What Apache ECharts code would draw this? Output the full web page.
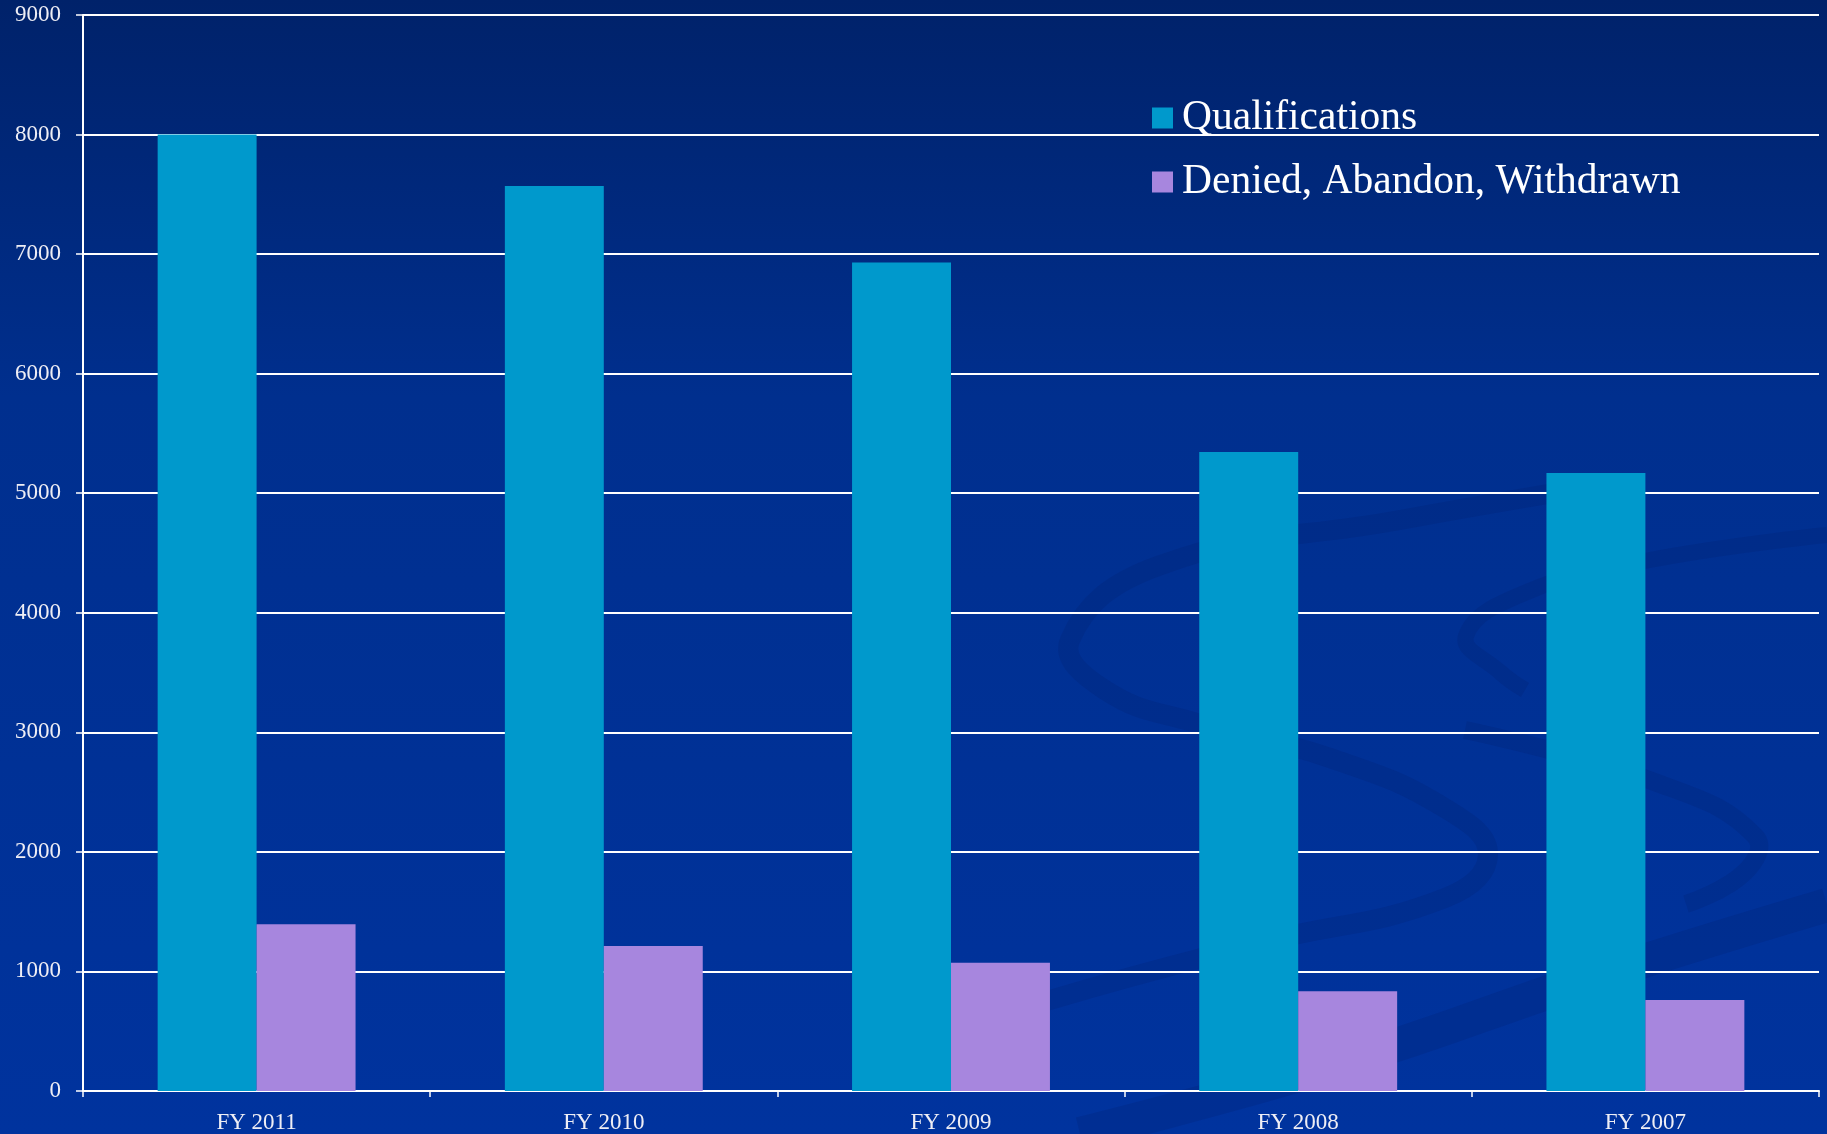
<!DOCTYPE html>
<html><head><meta charset="utf-8">
<script src="https://cdn.jsdelivr.net/npm/echarts@6/dist/echarts.min.js"></script>
<style>html,body{margin:0;padding:0;background:#00309a}#c{width:1827px;height:1134px}</style>
</head><body><div id="c"></div>
<script>
const categories = ['FY 2011', 'FY 2010', 'FY 2009', 'FY 2008', 'FY 2007'];
const qualifications = [8000, 7570, 6930, 5345, 5170];
const denied = [1395, 1212, 1072, 834, 762];
const yTicks = [0, 1000, 2000, 3000, 4000, 5000, 6000, 7000, 8000, 9000];
const seriesNames = ['Qualifications', 'Denied, Abandon, Withdrawn'];

const font = '"Liberation Serif", "DejaVu Serif", serif';
const swoosh = 'rgba(0,28,105,0.2)';
function deco(points, w) {
  return {type: 'polyline', z: -10, silent: true,
    shape: {points: points, smooth: 0.45},
    style: {stroke: swoosh, lineWidth: w, fill: null, lineCap: 'butt'}};
}
const chart = echarts.init(document.getElementById('c'));
chart.setOption({
  animation: false,
  backgroundColor: new echarts.graphic.LinearGradient(0, 0, 0, 1, [
    {offset: 0, color: '#00226a'},
    {offset: 0.35, color: '#002f8e'},
    {offset: 1, color: '#00339e'}
  ]),
  graphic: [
    deco([[1560, 492], [1400, 520], [1158, 566], [1070, 640], [1105, 690], [1200, 724], [1330, 758], [1448, 810], [1488, 855], [1445, 898], [1264, 942], [1050, 1000], [900, 1050]], 20),
    deco([[1827, 535], [1650, 560], [1527, 592], [1466, 636], [1500, 672], [1525, 690]], 16),
    deco([[1465, 730], [1660, 784], [1755, 836], [1745, 872], [1686, 904]], 18),
    deco([[1080, 1134], [1343, 1062], [1600, 975], [1827, 905]], 34)
  ],
  grid: {left: 83, right: 8, top: 15, bottom: 43},
  legend: {
    orient: 'vertical', left: 1147, top: 92,
    itemWidth: 21, itemHeight: 21, itemGap: 22,
    icon: 'rect',
    textStyle: {color: '#ffffff', fontFamily: font, fontSize: 41.5, padding: [0, 0, 0, 4]},
    data: seriesNames
  },
  xAxis: {
    type: 'category', data: categories,
    axisLine: {lineStyle: {color: '#ffffff', width: 2}},
    axisTick: {show: true, length: 6, lineStyle: {color: '#ffffff', width: 1.5}},
    axisLabel: {color: '#eeeef5', fontFamily: font, fontSize: 23, margin: 20}
  },
  yAxis: {
    type: 'value', min: yTicks[0], max: yTicks[yTicks.length - 1], interval: 1000,
    axisLine: {show: true, lineStyle: {color: '#ffffff', width: 2}},
    axisTick: {show: true, length: 7, lineStyle: {color: '#ffffff', width: 1.5}},
    axisLabel: {color: '#eeeef5', fontFamily: font, fontSize: 23, margin: 22,
      formatter: function (v) { return String(v); }},
    splitLine: {lineStyle: {color: '#ffffff', width: 2}}
  },
  series: [
    {name: seriesNames[0], type: 'bar', data: qualifications, barGap: '0%', barCategoryGap: '43%',
     itemStyle: {color: '#0099cc'}},
    {name: seriesNames[1], type: 'bar', data: denied,
     itemStyle: {color: '#a786de'}}
  ]
});
</script></body></html>
